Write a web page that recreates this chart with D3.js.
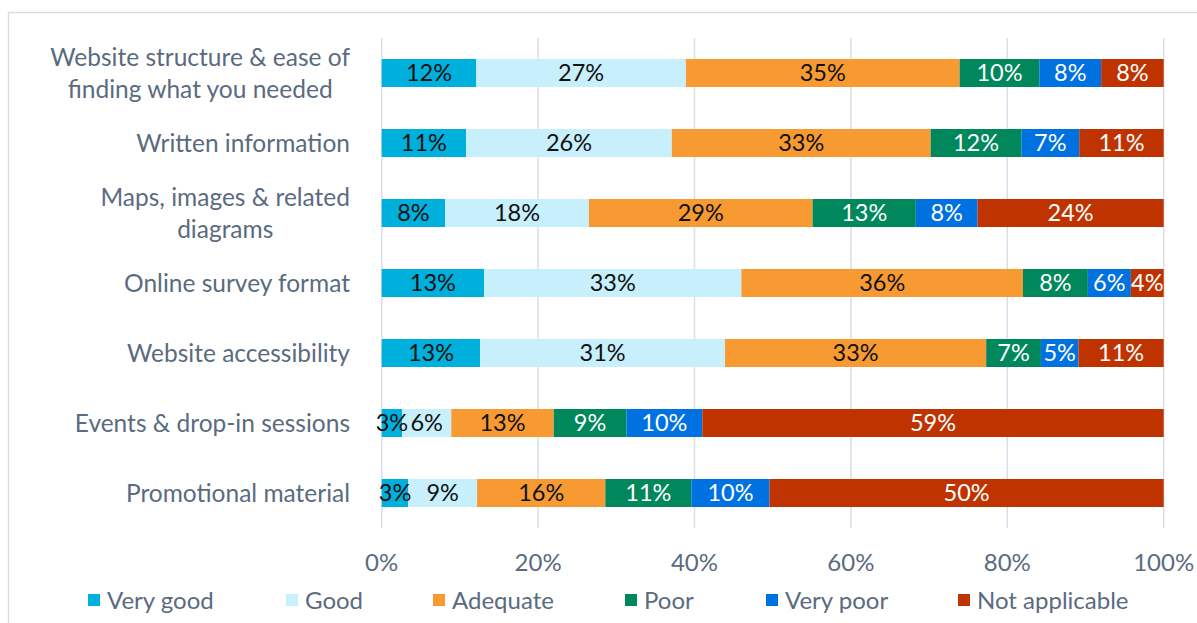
<!DOCTYPE html>
<html>
<head>
<meta charset="utf-8">
<script src="https://cdn.jsdelivr.net/npm/d3@7"></script>
<style>
  html, body { margin: 0; padding: 0; background: #fff; }
  svg { display: block; }
  text { font-family: Lato, "Open Sans", sans-serif; }
</style>
</head>
<body>
<svg id="chart" width="1197" height="623"></svg>
<script>
// ---- data ----
const categories = [
  ["Website structure & ease of", "finding what you needed"],
  ["Written information"],
  ["Maps, images & related", "diagrams"],
  ["Online survey format"],
  ["Website accessibility"],
  ["Events & drop-in sessions"],
  ["Promotional material"]
];
const seriesNames = ["Very good", "Good", "Adequate", "Poor", "Very poor", "Not applicable"];
const veryGood      = [12.1, 10.8,  8.1, 13.1, 12.6,  2.6,  3.4];
const good          = [26.8, 26.3, 18.4, 32.9, 31.3,  6.3,  8.8];
const adequate      = [35.0, 33.1, 28.6, 36.0, 33.4, 13.1, 16.4];
const poor          = [10.2, 11.6, 13.2,  8.3,  7.0,  9.3, 11.0];
const veryPoor      = [ 7.9,  7.4,  7.9,  5.5,  4.8,  9.7, 10.0];
const notApplicable = [ 8.0, 10.8, 23.8,  4.2, 10.9, 59.0, 50.4];
const xTicks = [0, 0.2, 0.4, 0.6, 0.8, 1.0];

const seriesValues = [veryGood, good, adequate, poor, veryPoor, notApplicable];
const colors = ["#00B0DC", "#C7F0FC", "#F79A31", "#00875B", "#0071E1", "#BF3300"];
const labelColors = ["#111", "#111", "#111", "#fff", "#fff", "#fff"];

// ---- layout ----
const svg = d3.select("#chart");
const plot = { left: 381.7, right: 1163.7, top: 38, bottom: 528 };
const textGray = "#5A6B80";

// chart border
svg.append("rect").attr("x", 8.5).attr("y", 12.5).attr("width", 1400).attr("height", 800)
  .attr("fill", "none").attr("stroke", "#D9DDE3").attr("stroke-width", 1.5);

const x = d3.scaleLinear().domain([0, 1]).range([plot.left, plot.right]);
const y = d3.scaleBand().domain(d3.range(categories.length))
  .range([plot.top, plot.bottom]).paddingInner(0.6).paddingOuter(0.3);

// gridlines
svg.append("g").selectAll("line").data(xTicks).join("line")
  .attr("x1", d => x(d)).attr("x2", d => x(d))
  .attr("y1", plot.top).attr("y2", plot.bottom)
  .attr("stroke", "#D9DEE8").attr("stroke-width", 1.5);

// stacked data
const rows = categories.map((c, i) => {
  let acc = 0;
  const total = d3.sum(seriesValues, s => s[i]);
  return seriesValues.map((s, k) => {
    const v = s[i] / total;
    const seg = { row: i, k, x0: acc, x1: acc + v, v: s[i] / 100 };
    acc += v;
    return seg;
  });
});
const segs = rows.flat();

svg.append("g").selectAll("rect").data(segs).join("rect")
  .attr("x", d => x(d.x0)).attr("width", d => x(d.x1) - x(d.x0))
  .attr("y", d => y(d.row)).attr("height", y.bandwidth())
  .attr("fill", d => colors[d.k]);

const fmt = d3.format(".0%");
svg.append("g").selectAll("text").data(segs).join("text")
  .attr("x", d => (x(d.x0) + x(d.x1)) / 2)
  .attr("y", d => y(d.row) + y.bandwidth() / 2)
  .attr("dy", "0.36em")
  .attr("text-anchor", "middle")
  .attr("font-size", 23.5)
  .attr("fill", d => labelColors[d.k])
  .text(d => fmt(d.v));

// category labels
const catG = svg.append("g");
categories.forEach((lines, i) => {
  const cy = y(i) + y.bandwidth() / 2;
  const lh = 32;
  const g = catG.append("g");
  const ts = lines.map((l, j) => g.append("text")
    .attr("y", cy + (j - (lines.length - 1) / 2) * lh)
    .attr("dy", "0.36em")
    .attr("font-size", 24.5)
    .attr("fill", textGray)
    .attr("text-anchor", "middle")
    .text(l));
  const w = d3.max(ts, t => t.node().getComputedTextLength());
  ts.forEach(t => t.attr("x", 350 - w / 2));
});

// x axis labels
svg.append("g").selectAll("text").data(xTicks).join("text")
  .attr("x", d => x(d)).attr("y", 562).attr("dy", "0.36em")
  .attr("text-anchor", "middle").attr("font-size", 24).attr("fill", textGray)
  .text(d => d3.format(".0%")(d));

// legend
const legendX = [88, 286, 433, 625, 766, 958];
const lg = svg.append("g").selectAll("g").data(seriesNames).join("g")
  .attr("transform", (d, i) => `translate(${legendX[i]},600)`);
lg.append("rect").attr("x", 0).attr("y", -6).attr("width", 12).attr("height", 12)
  .attr("fill", (d, i) => colors[i]);
lg.append("text").attr("x", 19).attr("y", 0).attr("dy", "0.36em")
  .attr("font-size", 24).attr("fill", textGray).text(d => d);
</script>
</body>
</html>
